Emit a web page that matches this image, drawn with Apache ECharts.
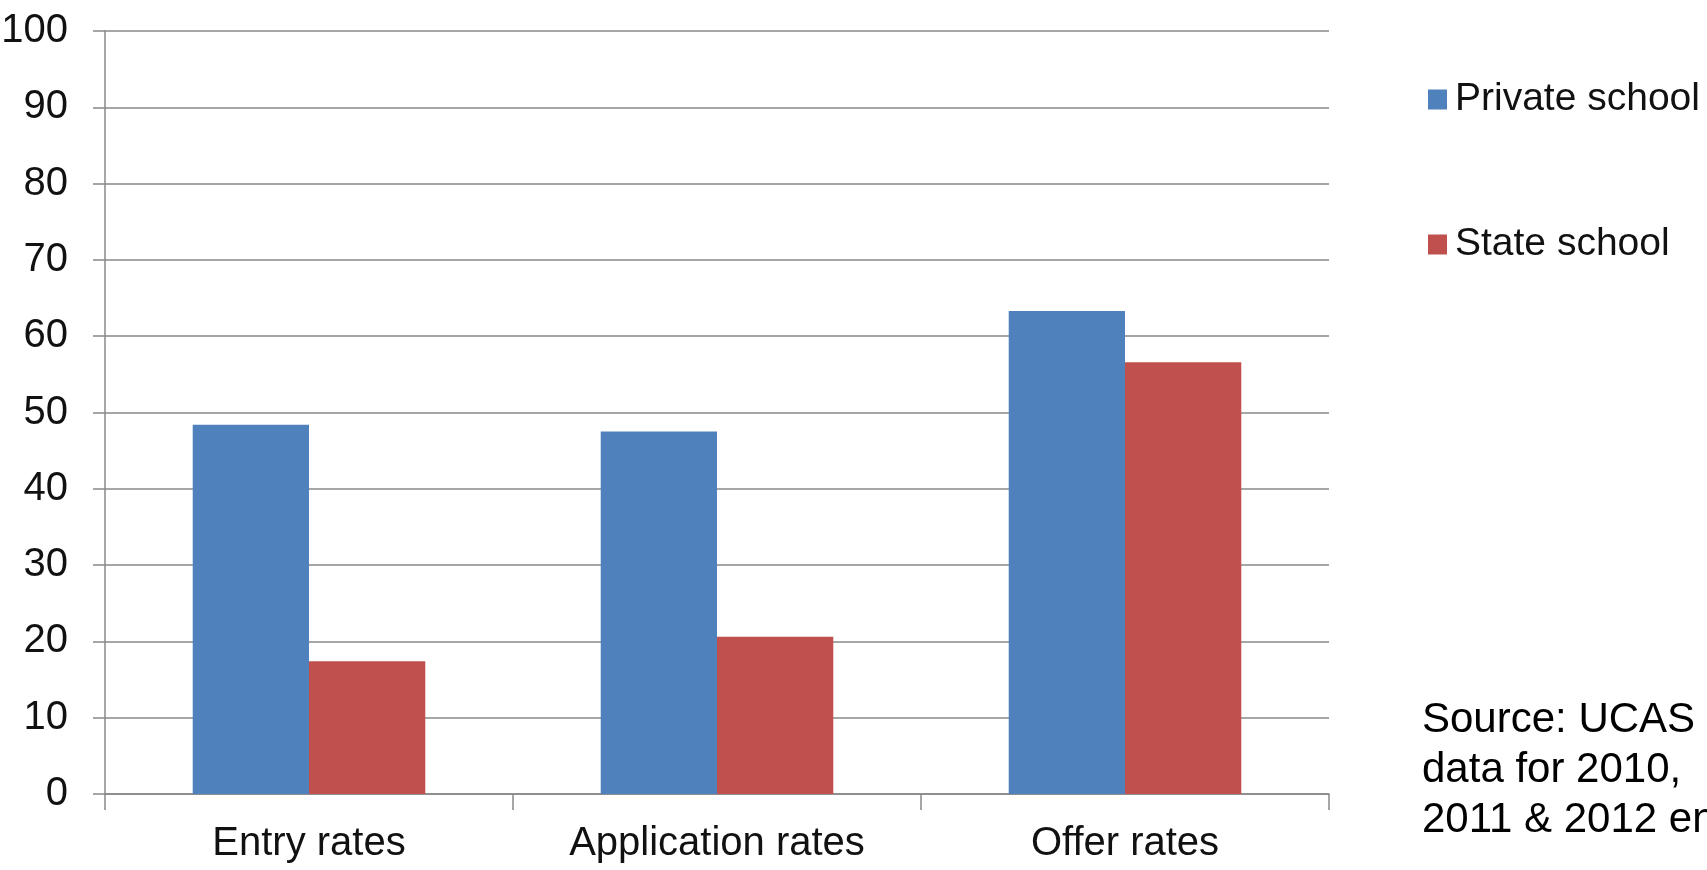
<!DOCTYPE html>
<html>
<head>
<meta charset="utf-8">
<title>Private vs state school rates</title>
<script src="https://cdn.jsdelivr.net/npm/echarts@6/dist/echarts.min.js"></script>
<style>
  html, body { margin: 0; padding: 0; background: #ffffff; }
  #chart { width: 1707px; height: 870px; }
</style>
</head>
<body>
<div id="chart"></div>
<script>
// Rates (%) by stage, private vs state school pupils
const categories = ['Entry rates', 'Application rates', 'Offer rates'];
const privateSchool = [48.4, 47.5, 63.3];
const stateSchool = [17.4, 20.6, 56.6];
const seriesNames = ['Private school', 'State school'];
const sourceNote = 'Source: UCAS\ndata for 2010,\n2011 & 2012 entry';

const labelFont = '"Liberation Sans", Arial, sans-serif';
const axisGrey = '#888888';

const chart = echarts.init(document.getElementById('chart'), null, { renderer: 'canvas' });

chart.setOption({
  backgroundColor: '#ffffff',
  animation: false,
  grid: { left: 105, right: 378, top: 31, bottom: 76, containLabel: false, outerBoundsMode: 'none' },
  legend: {
    orient: 'vertical',
    left: 1423,
    top: 75,
    itemWidth: 19,
    itemHeight: 20,
    itemGap: 106,
    icon: 'rect',
    textStyle: { fontFamily: labelFont, fontSize: 39, color: '#111111', padding: [0, 0, 0, 3] },
    data: seriesNames
  },
  xAxis: {
    type: 'category',
    data: categories,
    axisLine: { lineStyle: { color: axisGrey, width: 1.5 } },
    axisTick: { show: true, length: 16, interval: 0, lineStyle: { color: axisGrey, width: 1.5 } },
    axisLabel: { interval: 0, margin: 30, fontFamily: labelFont, fontSize: 40, color: '#111111' },
    splitLine: { show: false }
  },
  yAxis: {
    type: 'value',
    min: 0,
    max: 100,
    interval: 10,
    axisLine: { show: true, lineStyle: { color: axisGrey, width: 1.5 } },
    axisTick: { show: true, length: 12, lineStyle: { color: axisGrey, width: 1.5 } },
    axisLabel: { margin: 37, fontFamily: labelFont, fontSize: 40, color: '#111111' },
    splitLine: { show: true, lineStyle: { color: axisGrey, width: 1.5 } }
  },
  series: [
    {
      name: seriesNames[0],
      type: 'bar',
      data: privateSchool,
      barGap: '0%',
      barCategoryGap: '43%',
      itemStyle: { color: '#4F81BD' }
    },
    {
      name: seriesNames[1],
      type: 'bar',
      data: stateSchool,
      barGap: '0%',
      barCategoryGap: '43%',
      itemStyle: { color: '#C0504D' }
    }
  ],
  graphic: [
    {
      type: 'text',
      left: 1422,
      top: 695,
      style: {
        text: sourceNote,
        font: '42px "Liberation Sans", Arial, sans-serif',
        lineHeight: 50,
        fill: '#000000'
      }
    }
  ]
});
</script>
</body>
</html>
